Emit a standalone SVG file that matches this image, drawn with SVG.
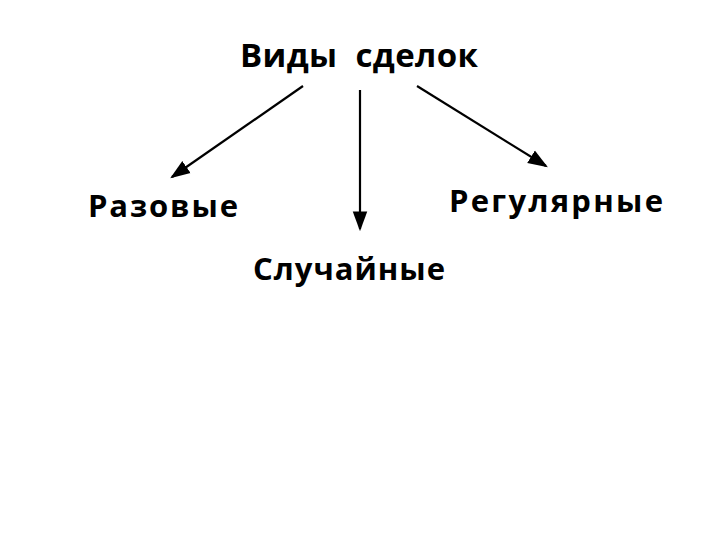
<svg xmlns="http://www.w3.org/2000/svg" width="720" height="540" viewBox="0 0 720 540">
<style>
text{font-family:"Open Sans","DejaVu Sans",sans-serif;font-weight:bold;fill:#000;white-space:pre}
.c line{stroke:#000;stroke-width:2.2;fill:none}
</style>
<defs>
<marker id="ah" markerWidth="9" markerHeight="8" refX="8" refY="4" orient="auto" markerUnits="strokeWidth">
<path d="M0,0.7 L9,4 L0,7.3 Z" fill="#000"/>
</marker>
</defs>
<rect width="720" height="540" fill="#fff"/>
<g id="root"><text x="240" y="67" font-size="33" textLength="238" lengthAdjust="spacing" xml:space="preserve">Виды  сделок</text></g>
<g id="n1"><text x="88" y="217" font-size="31" textLength="150" lengthAdjust="spacing">Разовые</text></g>
<g id="n2"><text x="253" y="280" font-size="31" textLength="192" lengthAdjust="spacing">Случайные</text></g>
<g id="n3"><text x="449" y="212" font-size="31" textLength="214" lengthAdjust="spacing">Регулярные</text></g>
<g class="c">
<line x1="303" y1="86" x2="172" y2="177" marker-end="url(#ah)"/>
<line x1="360" y1="90" x2="360" y2="229" marker-end="url(#ah)"/>
<line x1="417" y1="86" x2="546" y2="166" marker-end="url(#ah)"/>
</g>
</svg>
